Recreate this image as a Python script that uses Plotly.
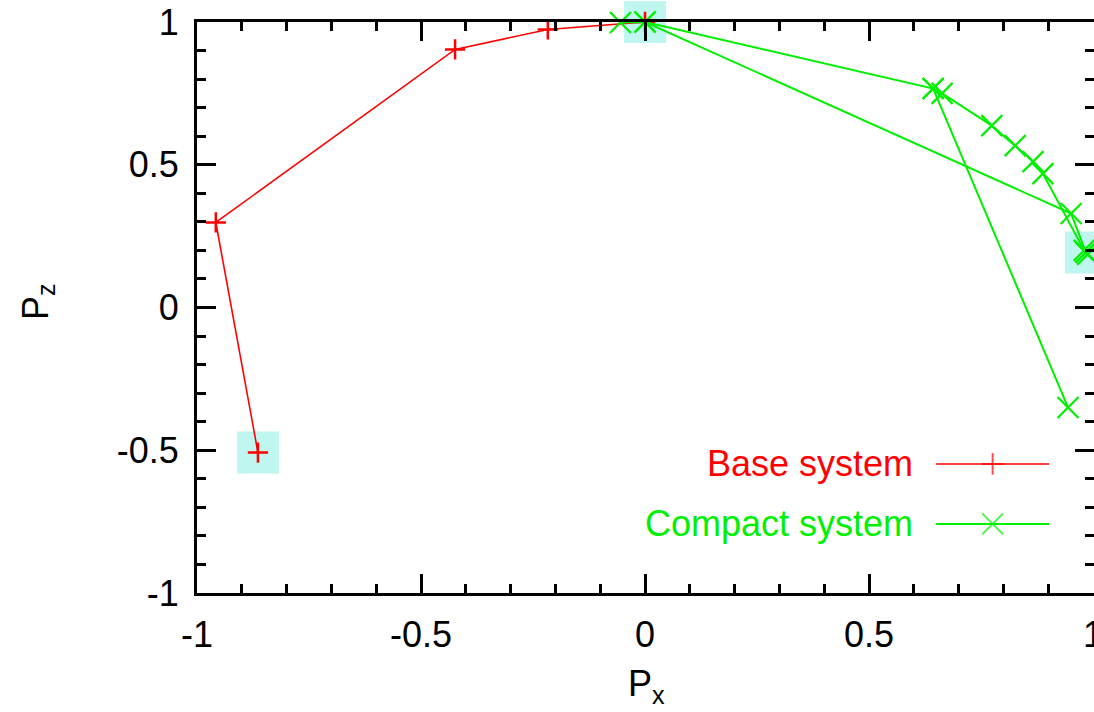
import plotly.graph_objects as go

# ---- data ----
base_x = [0.0, -0.217, -0.424, -0.958, -0.864]
base_y = [1.0, 0.974, 0.904, 0.298, -0.508]

compact_x = [-0.055, 0.0, 0.643, 0.944, None,
             0.643, 0.663, 0.774, 0.826, 0.866, 0.888, 0.980, 0.988, None,
             0.0, 0.951, 0.984]
compact_y = [0.998, 1.0, 0.767, -0.350, None,
             0.767, 0.750, 0.637, 0.567, 0.511, 0.469, 0.200, 0.186, None,
             1.0, 0.329, 0.193]

tick_vals = [-1, -0.5, 0, 0.5, 1]
tick_text = ["-1", "-0.5", "0", "0.5", "1"]

series_names = ["Base system", "Compact system"]

# highlighted points: common start, end of each run
hl_x = [base_x[-1], compact_x[1], compact_x[-1]]
hl_y = [base_y[-1], compact_y[1], compact_y[-1]]

RED = "#ff0000"
GREEN = "#00f000"
CYAN = "rgb(191,247,240)"
FONT = "Liberation Sans, Arial, sans-serif"

fig = go.Figure()

fig.add_trace(go.Scatter(
    x=hl_x, y=hl_y, mode="markers", showlegend=False, cliponaxis=False,
    marker=dict(symbol="square", size=42, color=CYAN, line=dict(width=0)),
    hoverinfo="skip"))

fig.add_trace(go.Scatter(
    x=base_x, y=base_y, mode="lines+markers", name=series_names[0],
    showlegend=False, cliponaxis=False,
    line=dict(color=RED, width=1.6),
    marker=dict(symbol="cross-thin", size=14.5, line=dict(color=RED, width=2.5))))

fig.add_trace(go.Scatter(
    x=compact_x, y=compact_y, mode="lines+markers", name=series_names[1],
    showlegend=False, cliponaxis=False, connectgaps=False,
    line=dict(color=GREEN, width=2),
    marker=dict(symbol="x-thin", size=21, line=dict(color=GREEN, width=2.2))))

# ---- manual legend (text left of sample, gnuplot style) ----
leg_x0, leg_xm, leg_x1 = 0.824, 0.887, 0.950
leg_rows = [0.226, 0.121]
leg_text_x = 0.800
for name, col, sym, sz, lw, row in [
        (series_names[0], RED, "cross-thin", 15.5, 1.6, leg_rows[0]),
        (series_names[1], GREEN, "x-thin", 21, 2, leg_rows[1])]:
    fig.add_trace(go.Scatter(
        x=[leg_x0, leg_xm, leg_x1], y=[row, row, row], xaxis="x2", yaxis="y2",
        mode="lines+markers", showlegend=False, hoverinfo="skip",
        line=dict(color=col, width=lw),
        marker=dict(symbol=sym, size=[0, sz, 0], line=dict(color=col, width=2))))
    fig.add_annotation(x=leg_text_x, y=row, xref="paper", yref="paper",
                       text=name, showarrow=False, xanchor="right", yanchor="middle",
                       font=dict(family=FONT, size=36, color=col))

axis_common = dict(
    showgrid=False, zeroline=False, automargin=False,
    showline=True, linecolor="black", linewidth=3, mirror="ticks",
    ticks="inside", ticklen=19, tickwidth=2.5, tickcolor="black",
    tickmode="array", tickvals=tick_vals, ticktext=tick_text,
    tickfont=dict(family=FONT, size=36, color="black"),
    minor=dict(tickmode="linear", tick0=-1, dtick=0.1, ticks="inside",
               ticklen=9, tickwidth=2.5, tickcolor="black", showgrid=False),
)

fig.update_layout(
    width=1094, height=712,
    margin=dict(l=197, r=0, t=22, b=119, autoexpand=False),
    paper_bgcolor="white", plot_bgcolor="white",
    font=dict(family=FONT, size=36, color="black"),
    xaxis=dict(**axis_common, range=[-1, 1.002], ticklabelstandoff=8,
               ticklabeloverflow="allow"),
    yaxis=dict(**axis_common, range=[-1, 1], ticklabelstandoff=8),
    xaxis2=dict(overlaying="x", range=[0, 1], visible=False),
    yaxis2=dict(overlaying="y", range=[0, 1], visible=False),
)

fig.add_annotation(x=0.501, y=-0.163, xref="paper", yref="paper",
                   text="P<sub>x</sub>", showarrow=False,
                   xanchor="center", yanchor="middle",
                   font=dict(family=FONT, size=36, color="black"))
fig.add_annotation(x=-0.178, y=0.51, xref="paper", yref="paper",
                   text="P<sub>z</sub>", showarrow=False, textangle=-90,
                   xanchor="center", yanchor="middle",
                   font=dict(family=FONT, size=36, color="black"))

fig.write_html("out.html")
